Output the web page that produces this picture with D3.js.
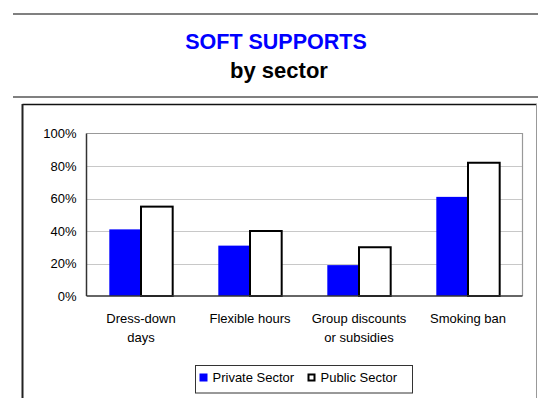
<!DOCTYPE html>
<html>
<head>
<meta charset="utf-8">
<script src="https://cdn.jsdelivr.net/npm/d3@7/dist/d3.min.js"></script>
<style>
  html, body { margin: 0; padding: 0; background: #fff; }
  svg { display: block; font-family: Arial, "Liberation Sans", sans-serif; }
</style>
</head>
<body>
<svg id="chart" width="538" height="398"></svg>
<script>
// Share of employers offering each soft support, by sector
const categories = [["Dress-down", "days"], ["Flexible hours"], ["Group discounts", "or subsidies"], ["Smoking ban"]];
const seriesNames = ["Private Sector", "Public Sector"];
const privateSector = [41, 31, 19, 61];
const publicSector = [55, 40, 30, 82];
const yTicks = [0, 20, 40, 60, 80, 100];

const svg = d3.select("#chart");

// Header rules and titles
svg.append("line").attr("x1", 13).attr("x2", 538).attr("y1", 14).attr("y2", 14)
  .attr("stroke", "#808080").attr("stroke-width", 2);
svg.append("line").attr("x1", 13).attr("x2", 538).attr("y1", 97).attr("y2", 97)
  .attr("stroke", "#808080").attr("stroke-width", 2);
svg.append("text").attr("x", 276).attr("y", 49).attr("text-anchor", "middle")
  .attr("font-size", 21.5).attr("font-weight", "bold").attr("fill", "#0000FF")
  .text("SOFT SUPPORTS");
svg.append("text").attr("x", 279).attr("y", 78).attr("text-anchor", "middle")
  .attr("font-size", 22).attr("font-weight", "bold").attr("fill", "#000")
  .text("by sector");

// Chart frame
svg.append("line").attr("x1", 22.5).attr("x2", 537).attr("y1", 104.5).attr("y2", 104.5)
  .attr("stroke", "#111").attr("stroke-width", 1.5);
svg.append("line").attr("x1", 22.5).attr("x2", 22.5).attr("y1", 104).attr("y2", 398)
  .attr("stroke", "#222").attr("stroke-width", 2);
svg.append("line").attr("x1", 536.5).attr("x2", 536.5).attr("y1", 104).attr("y2", 398)
  .attr("stroke", "#999").attr("stroke-width", 1);

// Plot area
const plot = { left: 86.5, right: 522.5, top: 133.5, bottom: 296 };

const x = d3.scaleBand().domain(d3.range(categories.length))
  .range([plot.left, plot.right]).padding(0);
const xs = d3.scaleBand().domain(seriesNames)
  .range([0, x.bandwidth()]).paddingInner(0).paddingOuter(0.72);
const y = d3.scaleLinear().domain([0, 100]).range([plot.bottom, plot.top]);

// Gridlines
svg.append("g").selectAll("line").data(yTicks.slice(1, -1)).join("line")
  .attr("x1", plot.left).attr("x2", plot.right)
  .attr("y1", d => Math.round(y(d)) + 0.5).attr("y2", d => Math.round(y(d)) + 0.5)
  .attr("stroke", "#c8c8c8").attr("stroke-width", 1);

// Plot border (top and right)
svg.append("path")
  .attr("d", `M${plot.left},${plot.top}H${plot.right}V${plot.bottom}`)
  .attr("fill", "none").attr("stroke", "#999").attr("stroke-width", 1.2);

// Y axis labels
const yAxis = d3.axisLeft(y).tickValues(yTicks).tickFormat(d => d + "%").tickSize(0).tickPadding(10);
const gy = svg.append("g").attr("transform", `translate(${plot.left},0)`).call(yAxis);
gy.select(".domain").remove();
gy.selectAll("text").attr("font-size", 13).attr("fill", "#000")
  .attr("font-family", "Arial, 'Liberation Sans', sans-serif");

// Bars
const rows = categories.map((c, i) => ({ i, vals: [privateSector[i], publicSector[i]] }));
const groups = svg.append("g").selectAll("g").data(rows).join("g")
  .attr("transform", d => `translate(${x(d.i)},0)`);
groups.append("rect")
  .attr("x", xs(seriesNames[0])).attr("width", xs.bandwidth())
  .attr("y", d => y(d.vals[0])).attr("height", d => y(0) - y(d.vals[0]))
  .attr("fill", "#0000FF");
groups.append("rect")
  .attr("x", xs(seriesNames[1])).attr("width", xs.bandwidth())
  .attr("y", d => y(d.vals[1])).attr("height", d => y(0) - y(d.vals[1]))
  .attr("fill", "#fff").attr("stroke", "#000").attr("stroke-width", 2);

// Axis lines
svg.append("line").attr("x1", plot.left).attr("x2", plot.right)
  .attr("y1", plot.bottom).attr("y2", plot.bottom)
  .attr("stroke", "#333").attr("stroke-width", 1.5);
svg.append("line").attr("x1", plot.left).attr("x2", plot.left)
  .attr("y1", plot.top).attr("y2", plot.bottom)
  .attr("stroke", "#333").attr("stroke-width", 1.5);

// Category labels
const labels = svg.append("g").selectAll("text").data(categories).join("text")
  .attr("text-anchor", "middle").attr("font-size", 13).attr("fill", "#000")
  .attr("transform", (d, i) => `translate(${x(i) + x.bandwidth() / 2},322.5)`);
labels.selectAll("tspan").data(d => d).join("tspan")
  .attr("x", 0).attr("dy", (d, j) => j === 0 ? 0 : 19).text(d => d);

// Legend
const legend = svg.append("g");
legend.append("rect").attr("x", 195.5).attr("y", 365.5).attr("width", 217).attr("height", 27.5)
  .attr("fill", "#fff").attr("stroke", "#333").attr("stroke-width", 1);
const legendItems = [
  { name: seriesNames[0], x: 199.5, fill: "#0000FF", stroke: "none" },
  { name: seriesNames[1], x: 307.5, fill: "#fff", stroke: "#000" }
];
const li = legend.selectAll("g.item").data(legendItems).join("g").attr("class", "item")
  .attr("transform", d => `translate(${d.x},373.5)`);
li.append("rect").attr("width", d => d.stroke === "none" ? 8 : 6).attr("height", d => d.stroke === "none" ? 8 : 6)
  .attr("x", d => d.stroke === "none" ? 0 : 1).attr("y", d => d.stroke === "none" ? 0 : 1)
  .attr("fill", d => d.fill).attr("stroke", d => d.stroke).attr("stroke-width", 2);
li.append("text").attr("x", 13).attr("y", 8.5).attr("font-size", 13).attr("fill", "#000")
  .text(d => d.name);
</script>
</body>
</html>
